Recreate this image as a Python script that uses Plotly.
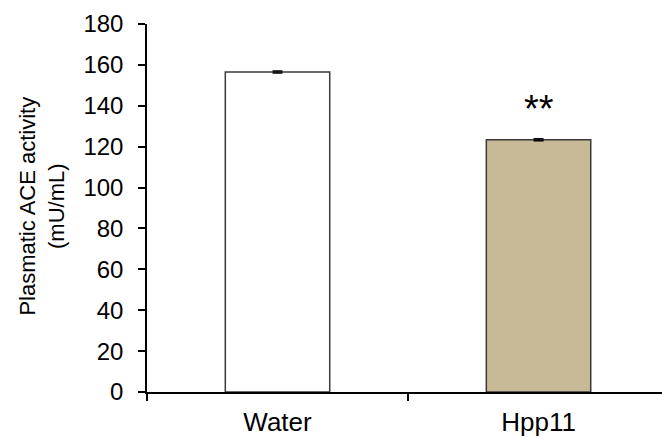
import plotly.graph_objects as go

groups = ["Water", "Hpp11"]
ace_activity = [156.5, 123.4]
sem = [0.5, 0.5]
fill_colors = ["#FFFFFF", "#C8BA96"]
significance = ["", "**"]
y_ticks = [0, 20, 40, 60, 80, 100, 120, 140, 160, 180]

FONT = "Liberation Sans, Arial, sans-serif"

fig = go.Figure()
fig.add_trace(go.Bar(
    x=groups,
    y=ace_activity,
    width=0.4,
    marker=dict(color=fill_colors, line=dict(color="#3A3A3A", width=1.5)),
    error_y=dict(type="data", array=sem, visible=True, color="#000000",
                 thickness=1.5, width=5),
    showlegend=False,
))

for g, v, s in zip(groups, ace_activity, significance):
    if s:
        fig.add_annotation(x=g, y=v + 15, text=s, showarrow=False,
                           font=dict(family=FONT, size=38, color="#000000"),
                           xanchor="center", yanchor="middle")

fig.add_annotation(
    xref="paper", yref="paper", x=-0.203, y=0.505,
    text="Plasmatic ACE activity<br>(mU/mL)", textangle=-90,
    showarrow=False, xanchor="center", yanchor="middle",
    font=dict(family=FONT, size=22, color="#000000"),
)

fig.update_layout(
    width=662, height=437,
    margin=dict(l=147, r=0, t=24, b=45),
    paper_bgcolor="#FFFFFF", plot_bgcolor="#FFFFFF",
    font=dict(family=FONT, color="#000000"),
    xaxis=dict(
        type="category", range=[-0.5, 1.473], tickson="boundaries",
        ticks="outside", ticklen=7, tickwidth=1.5, tickcolor="#000000",
        showline=True, linecolor="#000000", linewidth=1.5,
        showgrid=False, tickfont=dict(family=FONT, size=26),
        ticklabelstandoff=6,
    ),
    yaxis=dict(
        range=[0, 180], tickvals=y_ticks, ticks="outside", ticklen=7,
        tickwidth=1.5, tickcolor="#000000", showline=True,
        linecolor="#000000", linewidth=1.5, showgrid=False, zeroline=False,
        tickfont=dict(family=FONT, size=24), ticklabelstandoff=10,
    ),
)

fig.write_html("out.html")
